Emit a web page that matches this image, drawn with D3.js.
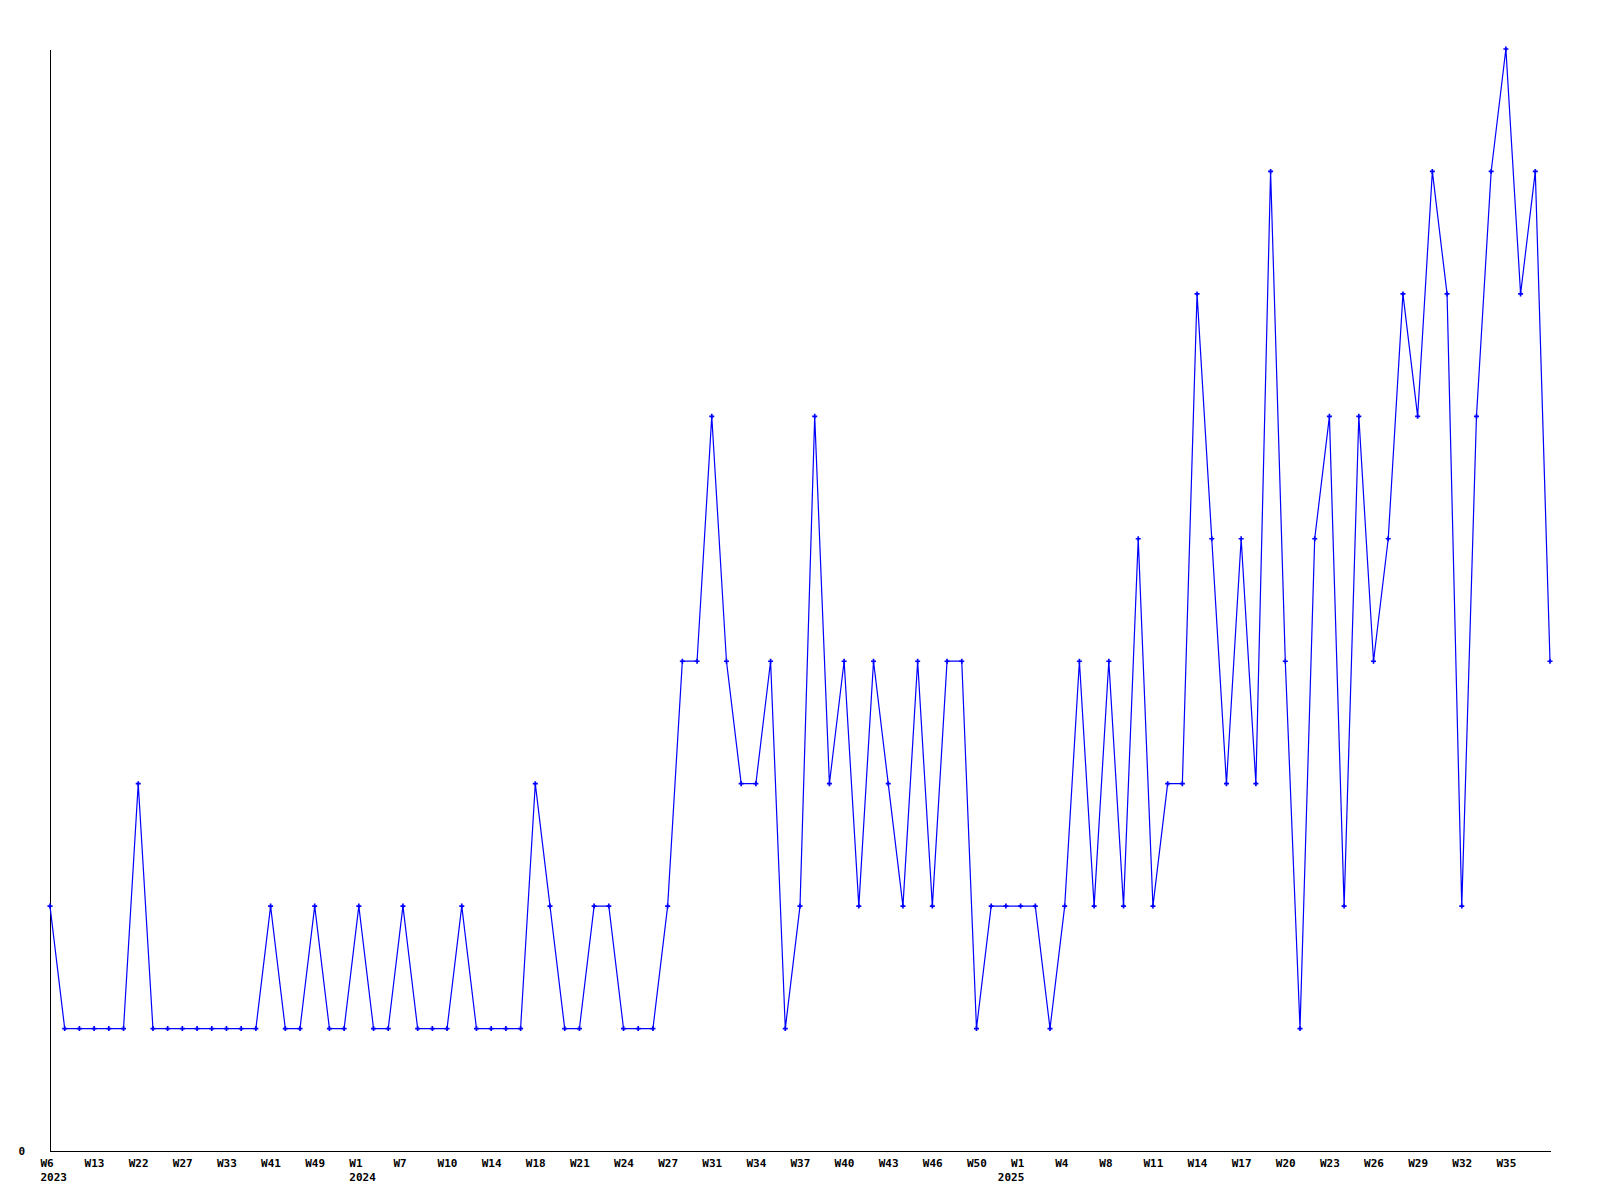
<!DOCTYPE html>
<html>
<head>
<meta charset="utf-8">
<script src="https://cdn.jsdelivr.net/npm/d3@7"></script>
<style>
  html, body { margin: 0; padding: 0; background: #ffffff; }
  svg text { font-family: "DejaVu Sans Mono", "Liberation Mono", monospace; font-weight: bold; font-size: 11px; fill: #000; }
</style>
</head>
<body>
<script>
// Weekly values (one per week shown on the x axis, 103 points)
const values = [
  2, 1, 1, 1, 1, 1, 3, 1, 1, 1,
  1, 1, 1, 1, 1, 2, 1, 1, 2, 1,
  1, 2, 1, 1, 2, 1, 1, 1, 2, 1,
  1, 1, 1, 3, 2, 1, 1, 2, 2, 1,
  1, 1, 2, 4, 4, 6, 4, 3, 3, 4,
  1, 2, 6, 3, 4, 2, 4, 3, 2, 4,
  2, 4, 4, 1, 2, 2, 2, 2, 1, 2,
  4, 2, 4, 2, 5, 2, 3, 3, 7, 5,
  3, 5, 3, 8, 4, 1, 5, 6, 2, 6,
  4, 5, 7, 6, 8, 7, 2, 6, 8, 9,
  7, 8, 4
];
// Tick labels shown on every third point
const tickWeeks = [
  "W6", "W13", "W22", "W27", "W33", "W41", "W49",
  "W1", "W7", "W10", "W14", "W18", "W21", "W24", "W27", "W31", "W34",
  "W37", "W40", "W43", "W46", "W50",
  "W1", "W4", "W8", "W11", "W14", "W17", "W20", "W23", "W26", "W29", "W32", "W35"
];
const tickYears = ["2023", "", "", "", "", "", "",
  "2024", "", "", "", "", "", "", "", "", "",
  "", "", "", "", "",
  "2025", "", "", "", "", "", "", "", "", "", "", ""];
const tickStep = 3;
const yTicks = [0];

const W = 1600, H = 1200;
const svg = d3.select("body").append("svg").attr("width", W).attr("height", H);

const x = d3.scaleLinear().domain([0, values.length - 1]).range([50, 1550]);
const y = d3.scaleLinear().domain([0, 9]).range([1151, 49]);

const tickIdx = tickWeeks.map((_, i) => i * tickStep);
const yearIdx = tickYears.map((t, i) => t ? i : -1).filter(i => i >= 0);
const lastYear = yearIdx[yearIdx.length - 1];

// X axis
const xAxis = d3.axisBottom(x)
  .tickValues(tickIdx)
  .tickSize(0)
  .tickSizeOuter(0)
  .tickPadding(0)
  .tickFormat((d, i) => tickWeeks[i]);
const gx = svg.append("g").attr("transform", `translate(0,${y(0)})`).call(xAxis);
gx.select(".domain").attr("stroke", "#000").attr("shape-rendering", "crispEdges");
gx.selectAll(".tick text")
  .attr("font-family", null).attr("font-size", null)
  .attr("text-anchor", "start")
  .attr("y", 0).attr("dy", null)
  .each(function(d, i) {
    const t = d3.select(this);
    t.text(null);
    t.append("tspan").attr("x", -10).attr("y", 15.5).text(tickWeeks[i]);
    if (tickYears[i]) {
      const ts = t.append("tspan").attr("y", 30).text(tickYears[i]);
      if (i === lastYear && yearIdx.length > 2) {
        ts.attr("x", -10 + tickWeeks[i].length * 6.62).attr("text-anchor", "end");
      } else {
        ts.attr("x", -10);
      }
    }
  });

// Y axis
const yAxis = d3.axisLeft(y).tickValues(yTicks).tickSize(0).tickSizeOuter(0).tickPadding(25).tickFormat(d3.format("d"));
const gy = svg.append("g").attr("transform", `translate(${x(0)},0)`).call(yAxis);
gy.select(".domain").attr("stroke", "#000").attr("shape-rendering", "crispEdges");
gy.selectAll(".tick text").attr("font-family", null).attr("font-size", null).attr("dy", "0.35em");

// Line
const line = d3.line().x((d, i) => x(i)).y(d => y(d));
svg.append("path")
  .datum(values)
  .attr("fill", "none")
  .attr("stroke", "#0000ff")
  .attr("stroke-width", 1.2)
  .attr("d", line);

// Markers
const sym = d3.symbol().type(d3.symbolCross).size(14);
svg.append("g").selectAll("path")
  .data(values)
  .join("path")
  .attr("transform", (d, i) => `translate(${x(i)},${y(d)})`)
  .attr("d", sym)
  .attr("fill", "#0000ff");
</script>
</body>
</html>
